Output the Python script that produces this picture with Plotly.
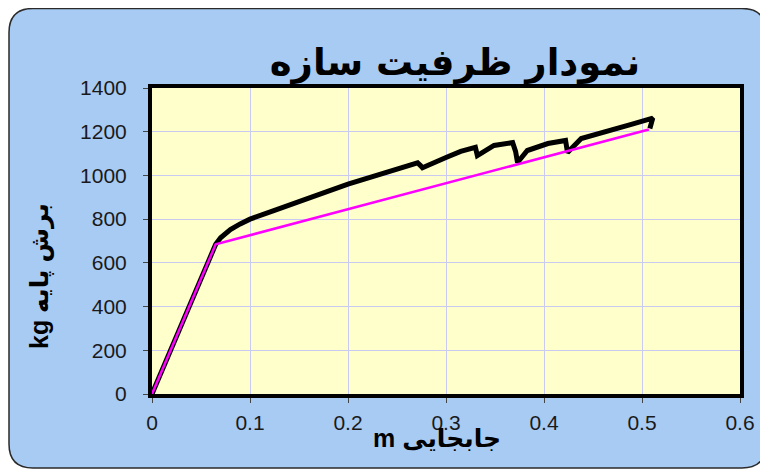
import plotly.graph_objects as go

# ---- data ----
capacity_x = [0, 0.065, 0.070, 0.080, 0.090, 0.100, 0.125, 0.150, 0.175, 0.200, 0.225, 0.250,
              0.271, 0.274, 0.276, 0.300, 0.315, 0.330, 0.332, 0.349, 0.368, 0.371, 0.373,
              0.383, 0.404, 0.422, 0.424, 0.438, 0.469, 0.490, 0.511, 0.508]
capacity_y = [0, 685, 715, 752, 778, 800, 840, 877, 920, 960, 995, 1025,
              1058, 1045, 1035, 1082, 1110, 1128, 1091, 1137, 1150, 1110, 1059,
              1114, 1146, 1160, 1105, 1169, 1205, 1235, 1262, 1215]
bilinear_x = [0, 0.065, 0.507]
bilinear_y = [0, 685, 1210]

x_ticks = [0, 0.1, 0.2, 0.3, 0.4, 0.5, 0.6]
x_tick_labels = ["0", "0.1", "0.2", "0.3", "0.4", "0.5", "0.6"]
y_ticks = [0, 200, 400, 600, 800, 1000, 1200, 1400]
y_tick_labels = ["0", "200", "400", "600", "800", "1000", "1200", "1400"]

title_text = "نمودار ظرفیت سازه"
x_title = "m جابجایی"
y_title = "kg برش پایه"

# ---- layout geometry (figure pixels; page adds an 8px body margin) ----
W, H = 760, 462
L, R, T, B = 144, 28, 80, 76
PW, PH = W - L - R, H - T - B
OFF = 8  # page margin offset between screen and figure pixels


def fx(px):
    return (px - OFF - L) / PW


def fy(py):
    return (H - B - (py - OFF)) / PH


def rounded_rect(x0, y0, x1, y1, r):
    pts = []
    pts.append(f"M {fx(x0 + r)} {fy(y0)}")
    pts.append(f"L {fx(x1 - r)} {fy(y0)}")
    pts.append(f"Q {fx(x1)} {fy(y0)} {fx(x1)} {fy(y0 + r)}")
    pts.append(f"L {fx(x1)} {fy(y1 - r)}")
    pts.append(f"Q {fx(x1)} {fy(y1)} {fx(x1 - r)} {fy(y1)}")
    pts.append(f"L {fx(x0 + r)} {fy(y1)}")
    pts.append(f"Q {fx(x0)} {fy(y1)} {fx(x0)} {fy(y1 - r)}")
    pts.append(f"L {fx(x0)} {fy(y0 + r)}")
    pts.append(f"Q {fx(x0)} {fy(y0)} {fx(x0 + r)} {fy(y0)}")
    pts.append("Z")
    return " ".join(pts)


fig = go.Figure()
fig.add_trace(go.Scatter(x=capacity_x, y=capacity_y, mode="lines",
                         line=dict(color="black", width=5), showlegend=False))
fig.add_trace(go.Scatter(x=bilinear_x, y=bilinear_y, mode="lines",
                         line=dict(color="#ff00ff", width=2.5), showlegend=False))

shapes = [
    dict(type="path", xref="paper", yref="paper", layer="below",
         path=rounded_rect(9, 8.5, 766, 468, 24),
         fillcolor="#a8cbf3", line=dict(color="#2a2a2a", width=1.5)),
    dict(type="rect", xref="paper", yref="paper", layer="below",
         x0=0, x1=1, y0=0, y1=1, fillcolor="#ffffcc", line=dict(width=0)),
]

tick_font = dict(family="Liberation Sans, Arial, sans-serif", size=21, color="#1a1a1a")
arabic_font = "Liberation Sans, DejaVu Sans, Arial, sans-serif"

fig.update_layout(
    width=W, height=H,
    margin=dict(l=L, r=R, t=T, b=B),
    paper_bgcolor="white",
    plot_bgcolor="rgba(0,0,0,0)",
    shapes=shapes,
    title=dict(text=title_text, x=(455 - OFF) / W, y=1 - (62 - OFF) / H,
               xanchor="center", yanchor="middle",
               font=dict(family="DejaVu Sans, sans-serif", size=37, color="black", weight="bold")),
    xaxis=dict(range=[0, 0.6], tickvals=x_ticks, ticktext=x_tick_labels,
               showgrid=True, gridcolor="#c9c9f2", gridwidth=1,
               showline=True, linecolor="black", linewidth=4, mirror=True,
               ticks="outside", ticklen=5, tickcolor="#444", tickwidth=1,
               ticklabelstandoff=2, tickfont=tick_font, zeroline=False),
    yaxis=dict(range=[0, 1400], tickvals=y_ticks, ticktext=y_tick_labels,
               showgrid=True, gridcolor="#c9c9f2", gridwidth=1,
               showline=True, linecolor="black", linewidth=4, mirror=True,
               ticks="outside", ticklen=5, tickcolor="#444", tickwidth=1,
               ticklabelstandoff=12, tickfont=tick_font, zeroline=False),
    annotations=[
        dict(text=x_title, xref="paper", yref="paper", x=fx(437), y=fy(438),
             xanchor="center", yanchor="middle", showarrow=False,
             font=dict(family=arabic_font, size=25, color="black", weight="bold")),
        dict(text=y_title, xref="paper", yref="paper", x=fx(40), y=fy(276),
             xanchor="center", yanchor="middle", showarrow=False, textangle=-90,
             font=dict(family=arabic_font, size=25, color="black", weight="bold")),
    ],
)

fig.write_html("out.html")
